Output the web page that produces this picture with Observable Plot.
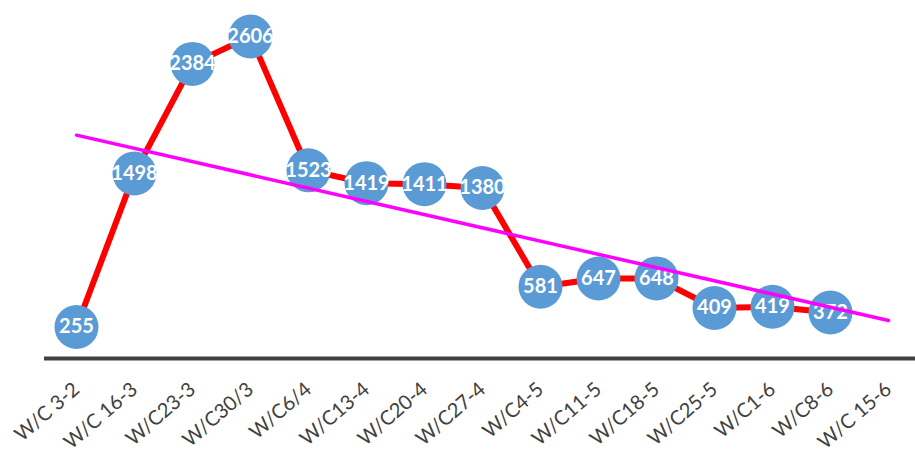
<!DOCTYPE html>
<html>
<head>
<meta charset="utf-8">
<script src="https://cdn.jsdelivr.net/npm/d3@7"></script>
<script src="https://cdn.jsdelivr.net/npm/@observablehq/plot@0.6"></script>
<style>
  body { margin: 0; background: #fff; }
  #chart svg { display: block; }
</style>
</head>
<body>
<div id="chart"></div>
<script>
const categories = ["W/C 3-2", "W/C 16-3", "W/C23-3", "W/C30/3", "W/C6/4", "W/C13-4", "W/C20-4", "W/C27-4", "W/C4-5", "W/C11-5", "W/C18-5", "W/C25-5", "W/C1-6", "W/C8-6", "W/C 15-6"];
const values = [255, 1498, 2384, 2606, 1523, 1419, 1411, 1380, 581, 647, 648, 409, 419, 372];

const data = values.map((v, i) => ({cat: categories[i], value: v}));

// Linear trend line (least squares on period index), forecast forward one period
const xs = values.map((_, i) => i + 1);
const mx = d3.mean(xs), my = d3.mean(values);
const slope = d3.sum(xs, (x, i) => (x - mx) * (values[i] - my)) / d3.sum(xs, x => (x - mx) ** 2);
const intercept = my - slope * mx;
const trend = [
  {cat: categories[0], value: intercept + slope * 1},
  {cat: categories[categories.length - 1], value: intercept + slope * categories.length}
];

const chart = Plot.plot({
  width: 915,
  height: 453,
  marginLeft: 44,
  marginRight: 0,
  marginTop: 12,
  marginBottom: 95,
  style: {fontFamily: "Lato, 'Open Sans', sans-serif", background: "#fff"},
  x: {type: "point", domain: categories, range: [74, 890], padding: 0},
  y: {domain: [0, 2800], axis: null},
  marks: [
    Plot.axisX({tickSize: 0, tickRotate: -41, tickPadding: 28, fontSize: 20, fill: "#404040", label: null}),
    Plot.ruleY([0], {stroke: "#404040", strokeWidth: 4}),
    Plot.line(data, {x: "cat", y: "value", stroke: "#ff0000", strokeWidth: 6}),
    Plot.dot(data, {x: "cat", y: "value", r: 22, fill: "#5b9bd5", stroke: "none"}),
    Plot.text(data, {x: "cat", y: "value", text: d => String(d.value), fill: "#fff", fontWeight: "bold", fontSize: 20}),
    Plot.line(trend, {x: "cat", y: "value", stroke: "#ff00ff", strokeWidth: 3.5})
  ]
});
document.getElementById("chart").appendChild(chart);
</script>
</body>
</html>
